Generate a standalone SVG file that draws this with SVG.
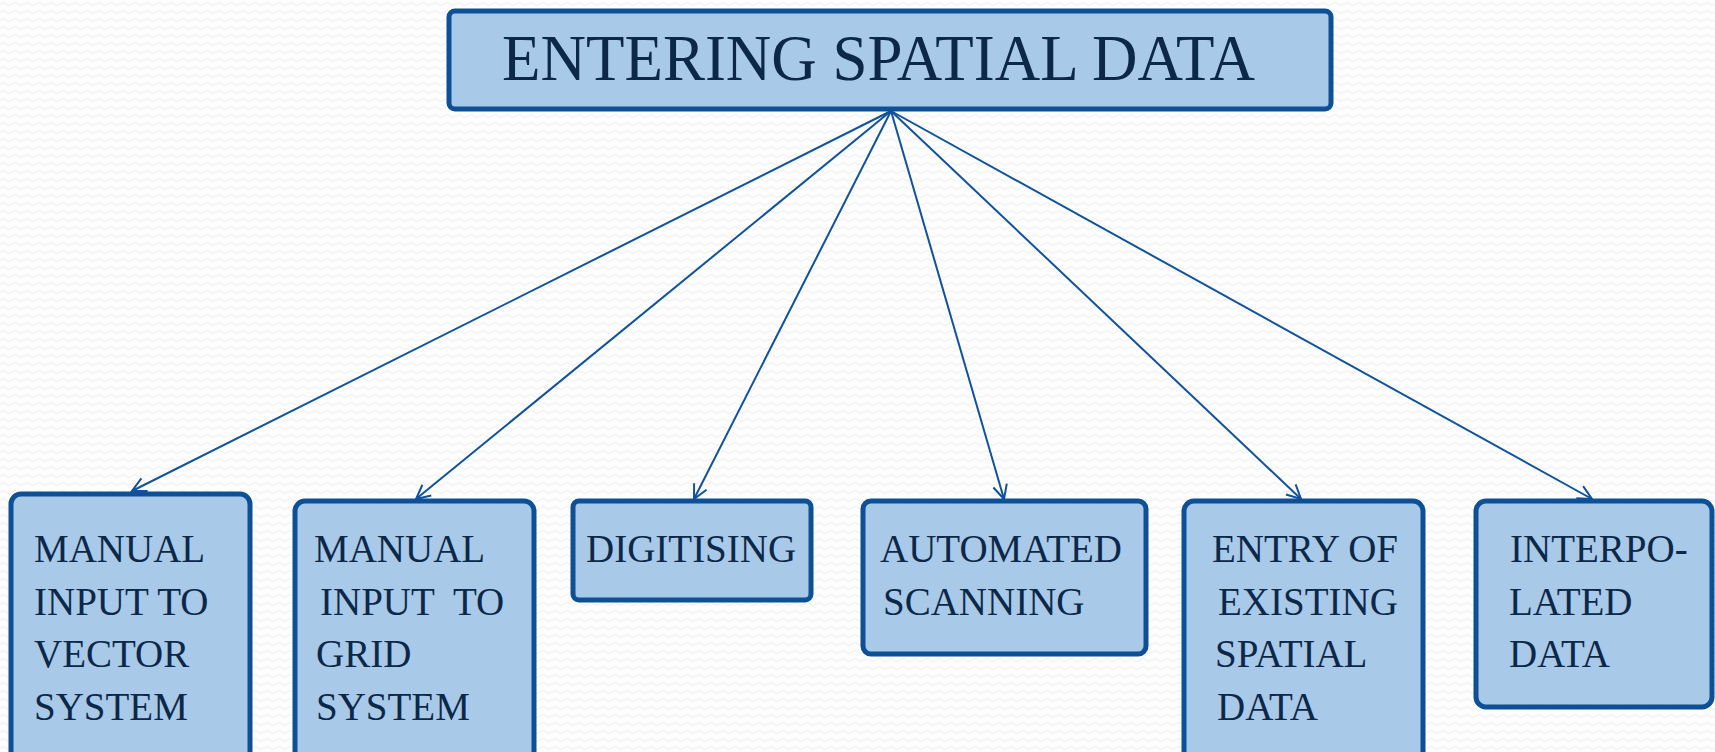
<svg xmlns="http://www.w3.org/2000/svg" width="1715" height="752" viewBox="0 0 1715 752">
<defs>
<pattern id="bg" width="12" height="8" patternUnits="userSpaceOnUse">
<rect width="12" height="8" fill="#fdfdfd"/>
<path d="M0,4 Q3,1 6,4 T12,4" fill="none" stroke="#efefef" stroke-width="1"/>
</pattern>
<marker id="arr" markerUnits="userSpaceOnUse" markerWidth="20" markerHeight="20" refX="15" refY="8" orient="auto">
<path d="M1,1 L15,8 L1,15" fill="none" stroke="#11529a" stroke-width="2"/>
</marker>
</defs>
<style>
.box{fill:#a9c9e9;stroke:#0d5096;stroke-width:5}
.t{font-family:"Liberation Serif",serif;font-size:39px;fill:#0b2848}
.title{font-family:"Liberation Serif",serif;font-size:65px;fill:#0b2848}
.c{stroke:#11529a;stroke-width:2;fill:none;marker-end:url(#arr)}
</style>
<rect width="1715" height="752" fill="url(#bg)"/>
<g id="connectors">
<line class="c" x1="891" y1="111" x2="132" y2="491"/>
<line class="c" x1="891" y1="111" x2="416" y2="499"/>
<line class="c" x1="891" y1="111" x2="694" y2="499"/>
<line class="c" x1="891" y1="111" x2="1004" y2="499"/>
<line class="c" x1="891" y1="111" x2="1301" y2="499"/>
<line class="c" x1="891" y1="111" x2="1592" y2="499"/>
</g>
<g id="root">
<rect class="box" x="449" y="11" width="882" height="98" rx="6"/>
<text class="title" x="502" y="80" textLength="753" lengthAdjust="spacingAndGlyphs">ENTERING SPATIAL DATA</text>
</g>
<g id="n1">
<rect class="box" x="11" y="494" width="239" height="280" rx="10"/>
<text class="t" x="34" y="562">MANUAL</text>
<text class="t" x="34" y="615">INPUT TO</text>
<text class="t" x="34" y="667">VECTOR</text>
<text class="t" x="34" y="720">SYSTEM</text>
</g>
<g id="n2">
<rect class="box" x="295" y="501" width="239" height="280" rx="10"/>
<text class="t" x="314" y="562">MANUAL</text>
<text class="t" x="320" y="615" xml:space="preserve">INPUT  TO</text>
<text class="t" x="316" y="667">GRID</text>
<text class="t" x="316" y="720">SYSTEM</text>
</g>
<g id="n3">
<rect class="box" x="573" y="501" width="238" height="99" rx="6"/>
<text class="t" x="586" y="562">DIGITISING</text>
</g>
<g id="n4">
<rect class="box" x="863" y="501" width="283" height="153" rx="8"/>
<text class="t" x="880" y="562">AUTOMATED</text>
<text class="t" x="883" y="615">SCANNING</text>
</g>
<g id="n5">
<rect class="box" x="1184" y="501" width="239" height="280" rx="10"/>
<text class="t" x="1212" y="562">ENTRY OF</text>
<text class="t" x="1218" y="615">EXISTING</text>
<text class="t" x="1215" y="667">SPATIAL</text>
<text class="t" x="1217" y="720">DATA</text>
</g>
<g id="n6">
<rect class="box" x="1476" y="501" width="236" height="206" rx="10"/>
<text class="t" x="1510" y="562">INTERPO-</text>
<text class="t" x="1509" y="615">LATED</text>
<text class="t" x="1509" y="667">DATA</text>
</g>
</svg>
